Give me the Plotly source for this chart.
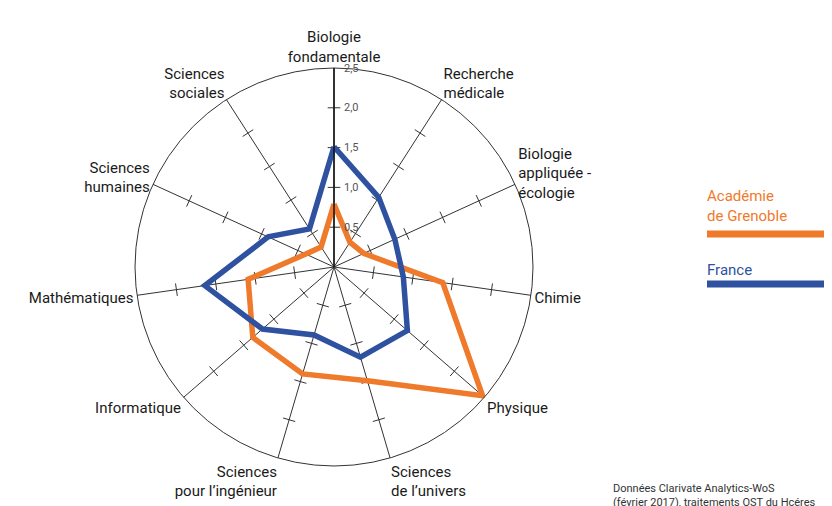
import plotly.graph_objects as go

categories = [
    "Biologie<br>fondamentale",
    "Recherche<br>médicale",
    "Biologie<br>appliquée -<br>écologie",
    "Chimie",
    "Physique",
    "Sciences<br>de l’univers",
    "Sciences<br>pour l’ingénieur",
    "Informatique",
    "Mathématiques",
    "Sciences<br>humaines",
    "Sciences<br>sociales",
]
grenoble = [0.79, 0.37, 0.41, 1.38, 2.47, 1.49, 1.40, 1.35, 1.09, 0.39, 0.30]
france = [1.51, 1.04, 0.84, 0.88, 1.22, 1.18, 0.89, 1.19, 1.64, 0.91, 0.57]
tick_values = [0.5, 1.0, 1.5, 2.0, 2.5]
tick_labels = ["0,5", "1,0", "1,5", "2,0", "2,5"]
spoke_ticks = [0.5, 1.0, 1.5, 2.0]

ORANGE = "#EF7A2B"
BLUE = "#2F52A0"
n = len(categories)

# page has an 8px body margin: figure placed at (8, 8), filling to the window edge
W, H, M = 824, 498, 8


def px(x):
    return (x - M) / W


def py(y):
    return (H + M - y) / H


fig = go.Figure()

# small tick marks across every spoke
tr, tt, ta = [], [], []
for i, c in enumerate(categories):
    for v in spoke_ticks:
        tr.append(v)
        tt.append(c)
        ta.append(i * 360.0 / n)
fig.add_trace(go.Scatterpolar(
    r=tr, theta=tt, mode="markers",
    marker=dict(symbol="line-ew", size=9, angle=ta,
                line=dict(color="#333333", width=1)),
    hoverinfo="skip", showlegend=False,
))

fig.add_trace(go.Scatterpolar(
    r=grenoble + [grenoble[0]], theta=categories + [categories[0]],
    mode="lines", line=dict(color=ORANGE, width=5.5),
    name="Académie de Grenoble", showlegend=False,
))
fig.add_trace(go.Scatterpolar(
    r=france + [france[0]], theta=categories + [categories[0]],
    mode="lines", line=dict(color=BLUE, width=5.5),
    name="France", showlegend=False,
))

fig.update_layout(
    width=W, height=H,
    margin=dict(l=0, r=0, t=0, b=0),
    paper_bgcolor="white",
    font=dict(family="Roboto", size=15, color="#1a1a1a"),
    polar=dict(
        domain=dict(x=[px(135), px(533)], y=[py(466), py(68)]),
        bgcolor="white",
        angularaxis=dict(
            direction="clockwise", rotation=90,
            showgrid=True, gridcolor="#333333", gridwidth=0.8,
            showline=True, linecolor="#333333", linewidth=1,
            ticks="", tickfont=dict(size=15, color="#1a1a1a"),
        ),
        radialaxis=dict(
            range=[0, 2.5], angle=90, tickangle=90,
            tickvals=tick_values, ticktext=tick_labels,
            side="clockwise",
            showgrid=False, showline=True, linecolor="#111111", linewidth=1.5,
            ticks="outside", ticklen=7, tickcolor="rgba(0,0,0,0)",
            tickfont=dict(size=11, color="#555555"),
        ),
    ),
    annotations=[
        dict(text="Académie<br>de Grenoble", x=px(705), y=py(185),
             xref="paper", yref="paper", xanchor="left", yanchor="top",
             showarrow=False, align="left",
             font=dict(size=15, color=ORANGE)),
        dict(text="France", x=px(705), y=py(259),
             xref="paper", yref="paper", xanchor="left", yanchor="top",
             showarrow=False, align="left",
             font=dict(size=15, color=BLUE)),
        dict(text="Données Clarivate Analytics-WoS<br>(février 2017), traitements OST du Hcéres",
             x=px(611), y=py(480),
             xref="paper", yref="paper", xanchor="left", yanchor="top",
             showarrow=False, align="left",
             font=dict(size=11, color="#333333")),
    ],
    shapes=[
        dict(type="line", xref="paper", yref="paper",
             x0=px(707), x1=1.0, y0=py(234), y1=py(234),
             line=dict(color=ORANGE, width=7)),
        dict(type="line", xref="paper", yref="paper",
             x0=px(707), x1=1.0, y0=py(284), y1=py(284),
             line=dict(color=BLUE, width=7)),
    ],
)

fig.write_html("out.html")
